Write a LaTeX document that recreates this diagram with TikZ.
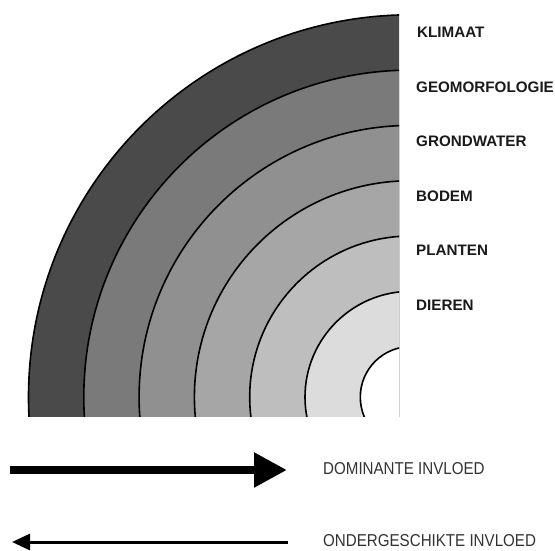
\documentclass[tikz,border=0pt]{standalone}
\usepackage{fontspec}
\setmainfont{Liberation Sans}
\newfontfamily\legendfont[FakeStretch=0.88]{Liberation Sans}
\usetikzlibrary{arrows.meta}
\definecolor{klimaatgray}{RGB}{74,74,74}
\definecolor{geomorfgray}{RGB}{122,122,122}
\definecolor{grondgray}{RGB}{144,144,144}
\definecolor{bodemgray}{RGB}{166,166,166}
\definecolor{plantgray}{RGB}{190,190,190}
\definecolor{dierengray}{RGB}{220,220,220}
\begin{document}
\begin{tikzpicture}
  [x=1pt,y=-1pt,
   layer/.style={anchor=base west,inner sep=0pt,text=black!90,font=\fontsize{15.2}{18}\selectfont\bfseries},
   legend/.style={anchor=base west,inner sep=0pt,text=black!80,font=\legendfont\fontsize{17.2}{20}\selectfont}]
  \useasboundingbox (0,0) rectangle (555,550);

  % rings, clipped to a quarter
  \begin{scope}
    \clip (0,0) rectangle (399,416);
    \foreach \r/\c in {382.3/klimaatgray, 327.0/geomorfgray, 271.7/grondgray,
                       216.4/bodemgray, 161.1/plantgray, 105.8/dierengray, 50.5/white}
    \draw[fill=\c,line width=1.6pt] (410.8,397.1) circle (\r pt);
  \end{scope}

  \node[layer] (klimaat) at (417,37.5) {KLIMAAT};
  \node[layer] (geomorf) at (416,92.5) {GEOMORFOLOGIE};
  \node[layer] (grond)   at (416,146.5) {GRONDWATER};
  \node[layer] (bodem)   at (416,201.5) {BODEM};
  \node[layer] (planten) at (416,255.5) {PLANTEN};
  \node[layer] (dieren)  at (416,310.5) {DIEREN};

  % legend
  \coordinate (dom-a) at (10,470);
  \coordinate (dom-b) at (287,470);
  \coordinate (ond-a) at (288,542);
  \coordinate (ond-b) at (12,542);
  \draw[line width=8.7pt,-{Triangle[length=33pt,width=33pt]}] (dom-a) -- (dom-b);
  \draw[line width=3pt,-{Triangle[length=18pt,width=16pt]}] (ond-a) -- (ond-b);
  \node[legend] (dominant) at (323,474.2) {DOMINANTE INVLOED};
  \node[legend] (onderg)   at (323,546.3) {ONDERGESCHIKTE INVLOED};
\end{tikzpicture}
\end{document}
